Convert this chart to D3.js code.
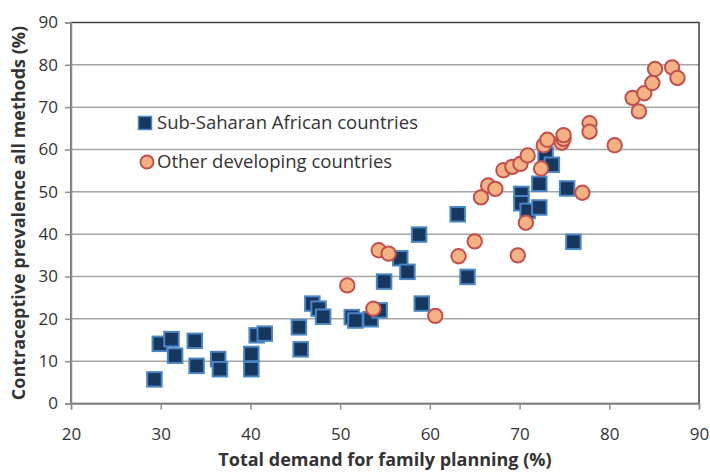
<!DOCTYPE html>
<html>
<head>
<meta charset="utf-8">
<script src="https://cdn.jsdelivr.net/npm/d3@7"></script>
<style>
  body { margin: 0; background: #fff; }
  text { font-family: "Open Sans", sans-serif; fill: #333; }
</style>
</head>
<body>
<div id="chart"></div>
<script>
// Sub-Saharan African countries: [total demand %, prevalence %]
const ssa_demand = [29.3, 29.9, 31.2, 31.6, 33.8, 34.0, 36.4, 36.6, 40.1, 40.1, 40.7, 41.6,
    45.4, 45.6, 46.9, 47.6, 48.1, 51.3, 51.7, 53.4, 54.4, 54.9, 56.7, 57.5, 58.8, 59.1,
    63.1, 64.2, 70.2, 70.2, 70.9, 72.2, 72.2, 72.9, 73.6, 75.3, 76.0];
const ssa_prev = [5.7, 14.1, 15.2, 11.3, 14.8, 8.9, 10.5, 8.1, 11.7, 8.1, 16.1, 16.5,
    18.0, 12.8, 23.6, 22.4, 20.5, 20.4, 19.6, 19.9, 22.0, 28.8, 34.3, 31.1, 39.9, 23.6,
    44.7, 29.9, 49.5, 47.3, 45.5, 46.3, 51.9, 58.8, 56.4, 50.8, 38.2];

// Other developing countries
const other_demand = [50.8, 53.7, 54.3, 55.4, 60.6, 63.2, 65.0, 65.7, 66.5, 67.3, 68.2,
    69.2, 70.1, 70.9, 69.8, 70.7, 72.4, 72.7, 73.1, 74.7, 74.9, 74.9, 77.0, 77.8, 77.8,
    80.6, 82.6, 83.3, 83.9, 84.8, 85.1, 87.0, 87.6];
const other_prev = [27.9, 22.4, 36.2, 35.4, 20.7, 34.8, 38.3, 48.7, 51.5, 50.7, 55.1,
    55.9, 56.6, 58.6, 35.0, 42.7, 55.5, 61.0, 62.3, 61.6, 62.5, 63.4, 49.8, 66.2, 64.2,
    61.0, 72.2, 69.0, 73.3, 75.7, 79.0, 79.4, 76.9];

const x_ticks = [20, 30, 40, 50, 60, 70, 80, 90];
const y_ticks = [0, 10, 20, 30, 40, 50, 60, 70, 80, 90];
const series_names = ["Sub-Saharan African countries", "Other developing countries"];

const W = 710, H = 474;
const margin = { left: 71, right: 11, top: 22.5, bottom: 70.5 };

const svg = d3.select("#chart").append("svg")
    .attr("width", W).attr("height", H);

const x = d3.scaleLinear().domain([20, 90]).range([margin.left, W - margin.right]);
const y = d3.scaleLinear().domain([0, 90]).range([H - margin.bottom, margin.top]);

// gridlines
svg.append("g")
    .selectAll("line")
    .data(y_ticks.filter((d) => d > 0 && d < 90))
    .join("line")
    .attr("x1", x(20)).attr("x2", x(90))
    .attr("y1", (d) => y(d)).attr("y2", (d) => y(d))
    .attr("stroke", "#a6a6a6").attr("stroke-width", 1.5);

// plot frame (top / right dark)
svg.append("rect")
    .attr("x", x(20)).attr("y", y(90))
    .attr("width", x(90) - x(20)).attr("height", y(0) - y(90))
    .attr("fill", "none").attr("stroke", "#404040").attr("stroke-width", 1.5);

// axes
const xAxis = svg.append("g")
    .attr("transform", `translate(0,${y(0)})`)
    .call(d3.axisBottom(x).tickValues(x_ticks).tickSize(6).tickPadding(18));
const yAxis = svg.append("g")
    .attr("transform", `translate(${x(20)},0)`)
    .call(d3.axisLeft(y).tickValues(y_ticks).tickSize(6).tickPadding(7));

[xAxis, yAxis].forEach((ax) => {
    ax.select(".domain").attr("stroke", "#8c8c8c").attr("stroke-width", 1.5);
    ax.selectAll(".tick line").attr("stroke", "#8c8c8c").attr("stroke-width", 1.5);
    ax.selectAll(".tick text")
        .attr("font-family", "Open Sans").attr("font-size", 17).attr("fill", "#333");
});

// axis titles
svg.append("text")
    .attr("x", (x(20) + x(90)) / 2).attr("y", 466)
    .attr("text-anchor", "middle")
    .attr("font-size", 18).attr("font-weight", "bold")
    .text("Total demand for family planning (%)");
svg.append("text")
    .attr("transform", `translate(25,${(y(0) + y(90)) / 2}) rotate(-90)`)
    .attr("text-anchor", "middle")
    .attr("font-size", 18).attr("font-weight", "bold")
    .text("Contraceptive prevalence all methods (%)");

// points
const ssa = ssa_demand.map((d, i) => ({ x: d, y: ssa_prev[i] }));
const other = other_demand.map((d, i) => ({ x: d, y: other_prev[i] }));
const sq = 14.5;

svg.append("g")
    .selectAll("rect")
    .data(ssa)
    .join("rect")
    .attr("x", (d) => x(d.x) - sq / 2).attr("y", (d) => y(d.y) - sq / 2)
    .attr("width", sq).attr("height", sq)
    .attr("fill", "#17375e").attr("stroke", "#4a86c5").attr("stroke-width", 2);

svg.append("g")
    .selectAll("circle")
    .data(other)
    .join("circle")
    .attr("cx", (d) => x(d.x)).attr("cy", (d) => y(d.y))
    .attr("r", 7.2)
    .attr("fill", "#f4b183").attr("stroke", "#c0504d").attr("stroke-width", 2);

// legend
const legend = svg.append("g").attr("transform", "translate(145,123)");
legend.append("rect")
    .attr("x", -6.5).attr("y", -6.5).attr("width", 13).attr("height", 13)
    .attr("fill", "#17375e").attr("stroke", "#4a86c5").attr("stroke-width", 1.5);
legend.append("circle")
    .attr("cx", 2).attr("cy", 39).attr("r", 6.5)
    .attr("fill", "#f4b183").attr("stroke", "#c0504d").attr("stroke-width", 2);
legend.selectAll("text")
    .data(series_names)
    .join("text")
    .attr("x", 12).attr("y", (d, i) => i * 39)
    .attr("dy", "0.35em")
    .attr("font-size", 18.5)
    .text((d) => d);
</script>
</body>
</html>
